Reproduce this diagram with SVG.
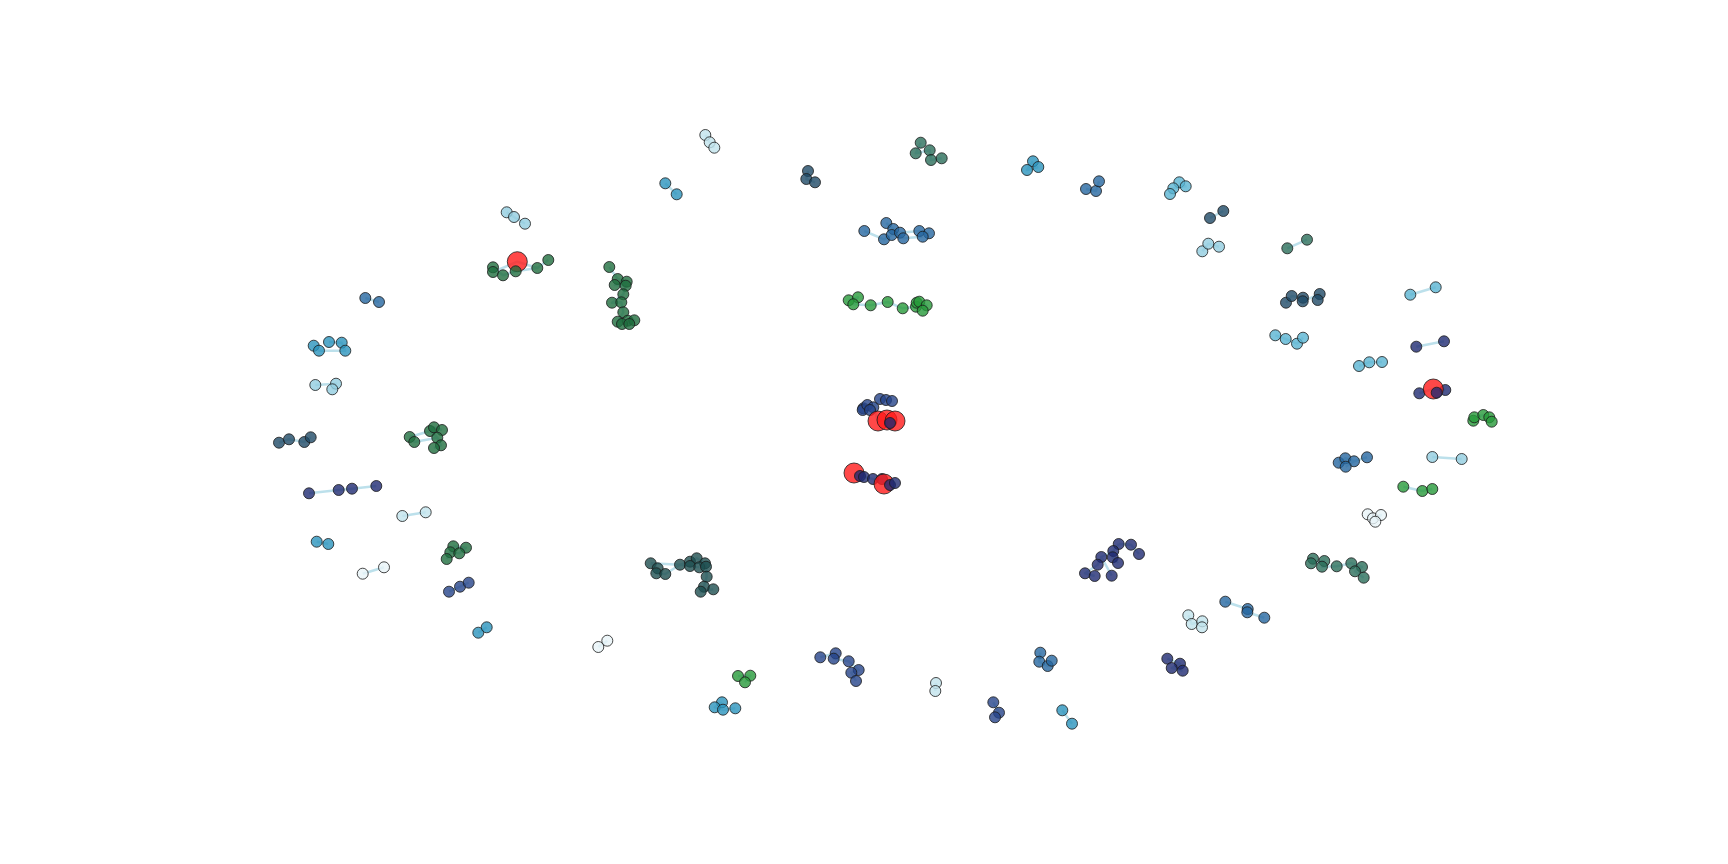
<svg xmlns="http://www.w3.org/2000/svg" width="1728" height="864" viewBox="0 0 1728 864">
<style>
circle{stroke:#1a1a1a;stroke-width:1;fill-opacity:0.8;stroke-opacity:0.8}
.e{fill:none;stroke:#9fd3e2;stroke-width:2.5;stroke-opacity:0.7;stroke-linejoin:round}
.dg{fill:#1f6e3f}.bg{fill:#279a3a}.tg{fill:#2a6e5a}.dt{fill:#1e4f50}.ds{fill:#1f4a66}
.nv{fill:#1f2a72}.nb{fill:#25438a}.bl{fill:#2566a0}.cy{fill:#2a93bd}.lc{fill:#5ab4d2}
.lb{fill:#92cde0}.vl{fill:#c2e4ec}.wh{fill:#e8f4f7}.rd{fill:#ff1a1a}
</style>
<rect width="1728" height="864" fill="#fff"/>
<g id="edges" class="e">
<path class="e" d="M506.7 212.3L514 217L525 223.7"/>
<path class="e" d="M493 267.3L503 275.3L515.7 271.3L537.3 268L548.3 260M493 272L517.3 261.7L537.3 268"/>
<path class="e" d="M365.3 298L379 302"/>
<path class="e" d="M705.3 135L709.7 142.3L714.3 147.7"/>
<path class="e" d="M665.3 183.3L676.7 194.3"/>
<path class="e" d="M808 171L806.3 179L815 182.3"/>
<path class="e" d="M864.3 231L884 239.3L891.7 235L900 232.7L919.3 231L929 233.3M886.3 223L893.3 229L903.3 238.3L922.7 236.7"/>
<path class="e" d="M609.3 267L617.7 279L626.7 281.7L614.7 285L625.7 285.7L623.3 294.3L612 302.7L621.3 302.3L623.3 312.3L617.7 321.7L627.7 320.7L634.3 320.3L629.3 324L622 324"/>
<path class="e" d="M848.7 300.3L858 297.3L853.3 304.3L870.7 305.3L887.7 302L902.7 308.3L916 306.7L916.7 302.7L919.3 301.7L926.7 305.3L922.7 310.7"/>
<path class="e" d="M920.7 142.7L915.7 153.3L929.7 150.3L931 160L941.7 158.3"/>
<path class="e" d="M1033 161.3L1027 170L1038.3 167"/>
<path class="e" d="M1086 189L1096 191L1099 181.3"/>
<path class="e" d="M1179.3 182.3L1185.7 186.3L1173.3 188.3L1170 194"/>
<path class="e" d="M1210 218L1223.3 211"/>
<path class="e" d="M1202.3 251.3L1208.3 243.7L1219 246.7"/>
<path class="e" d="M1287.3 248.3L1307 239.7"/>
<path class="e" d="M1286 302.7L1291.7 296L1303 297.7L1302.7 301.3L1319.7 294L1317.7 300"/>
<path class="e" d="M1410.3 294.7L1435.7 287.3"/>
<path class="e" d="M313.7 345.7L319 350.7L345.3 350.7L341.7 342.7L329 342"/>
<path class="e" d="M315.3 385L336 383.7L332.3 389.3"/>
<path class="e" d="M279 442.7L289 439.3L304.3 442L310.7 437.3"/>
<path class="e" d="M409.7 437L414.3 442L437.3 437.7L430 431L434 427.3L442 430M437.3 437.7L441 445.3L434 448M409.7 437L430 431"/>
<path class="e" d="M309 493.3L338.7 490L352 488.7L376.3 486"/>
<path class="e" d="M402.3 516L425.7 512.3"/>
<path class="e" d="M316.7 541.7L328.3 544"/>
<path class="e" d="M1275.3 335.3L1285.7 339L1297 343.7L1303 337.7"/>
<path class="e" d="M1416.3 346.7L1444 341.3"/>
<path class="e" d="M1359 366L1369.3 362.3L1382 362"/>
<path class="e" d="M1419.3 393.3L1433.3 389L1445.3 390"/>
<path class="e" d="M1473.3 420.7L1474.3 417.3L1483.3 415L1489.3 417.3L1491.7 421.7"/>
<path class="e" d="M1338.7 462.7L1345.3 458.3L1354 461.3L1367 457.3M1354 461.3L1345.7 466.7"/>
<path class="e" d="M1432.3 457L1461.7 459"/>
<path class="e" d="M1403.3 486.7L1422.3 491L1432.3 489"/>
<path class="e" d="M1367.7 514.3L1373 518.3L1381 515L1375.3 521.7"/>
<path class="e" d="M362.7 573.7L384 567.3"/>
<path class="e" d="M453.3 546.3L466 547.7L459.3 553.3L450.3 552.3L446.7 559"/>
<path class="e" d="M449 591.7L460 586.7L468.7 582.7"/>
<path class="e" d="M478.3 632.7L486.7 627.3"/>
<path class="e" d="M650.7 563.3L657.7 568.3L656.3 573.3L665.3 574L680 564.7L690 561.7L696.7 558.3L705 563.3L706 566.7L706.7 576.7L704 586.7L700.7 591.7L713.3 589.3M650.7 563.3L680 564.7L690 566L699.3 567.3"/>
<path class="e" d="M598.3 647L607.3 640.7"/>
<path class="e" d="M738 676L750.3 675.7L745 682.3"/>
<path class="e" d="M722 702.3L714.7 707.3L723 709.7L735.3 708.3"/>
<path class="e" d="M820.3 657.3L835.7 653.3L833.7 658.7L848.7 661.3L858.7 670L851.3 672.7L856 681"/>
<path class="e" d="M1118.7 544L1131 544.7L1139 554M1118.7 544L1113.3 551L1101.3 557L1097.7 564.7L1085 573.3L1094.7 576M1113.3 551L1112.7 557.3L1118 563M1101.3 557L1111.7 575.7"/>
<path class="e" d="M1188.3 615.3L1191.7 624L1202.3 621.3L1202 627.3"/>
<path class="e" d="M1040.3 652.7L1039.3 661.7L1047.7 666L1051.7 660.7"/>
<path class="e" d="M1167.3 658.7L1180 663.7L1171.7 668L1182.7 670.7"/>
<path class="e" d="M936 683L935.3 691"/>
<path class="e" d="M993.3 702.3L999 712.7L995 717.3"/>
<path class="e" d="M1062.3 710.3L1072 723.7"/>
<path class="e" d="M1313 558.7L1311 563.3L1324.3 561L1322 566.7L1336.7 566.3L1351.3 563.3L1362 567L1355 571.3L1363.7 577.7"/>
<path class="e" d="M1225.3 601.7L1247.7 609L1247.3 612.3L1264.3 617.7"/>
<path class="e" d="M863.3 408.3L867.3 405L873.3 407.3L880 399L886 400L892 401M873.3 407.3L878 421L887 420L895 421"/>
<path class="e" d="M854 473L860 476L873 479L882 479L884 484L890 485L895 483"/>
</g>
<g id="nodes">
<g id="c1"><circle class="lb" cx="506.7" cy="212.3" r="5.5"/><circle class="lb" cx="514" cy="217" r="5.5"/><circle class="lb" cx="525" cy="223.7" r="5.5"/></g>
<g id="c2"><circle class="rd" cx="517.3" cy="261.7" r="10"/></g>
<g id="c3"><circle class="dg" cx="493" cy="267.3" r="5.5"/><circle class="dg" cx="493" cy="272" r="5.5"/><circle class="dg" cx="503" cy="275.3" r="5.5"/><circle class="dg" cx="515.7" cy="271.3" r="5.5"/><circle class="dg" cx="537.3" cy="268" r="5.5"/><circle class="dg" cx="548.3" cy="260" r="5.5"/></g>
<g id="c4"><circle class="bl" cx="365.3" cy="298" r="5.5"/><circle class="bl" cx="379" cy="302" r="5.5"/></g>
<g id="c5"><circle class="vl" cx="705.3" cy="135" r="5.5"/><circle class="vl" cx="709.7" cy="142.3" r="5.5"/><circle class="vl" cx="714.3" cy="147.7" r="5.5"/></g>
<g id="c6"><circle class="cy" cx="665.3" cy="183.3" r="5.5"/><circle class="cy" cx="676.7" cy="194.3" r="5.5"/></g>
<g id="c7"><circle class="ds" cx="808" cy="171" r="5.5"/><circle class="ds" cx="806.3" cy="179" r="5.5"/><circle class="ds" cx="815" cy="182.3" r="5.5"/></g>
<g id="c8"><circle class="bl" cx="864.3" cy="231" r="5.5"/><circle class="bl" cx="886.3" cy="223" r="5.5"/><circle class="bl" cx="893.3" cy="229" r="5.5"/><circle class="bl" cx="884" cy="239.3" r="5.5"/><circle class="bl" cx="891.7" cy="235" r="5.5"/><circle class="bl" cx="900" cy="232.7" r="5.5"/><circle class="bl" cx="903.3" cy="238.3" r="5.5"/><circle class="bl" cx="919.3" cy="231" r="5.5"/><circle class="bl" cx="929" cy="233.3" r="5.5"/><circle class="bl" cx="922.7" cy="236.7" r="5.5"/></g>
<g id="c9"><circle class="dg" cx="609.3" cy="267" r="5.5"/><circle class="dg" cx="617.7" cy="279" r="5.5"/><circle class="dg" cx="626.7" cy="281.7" r="5.5"/><circle class="dg" cx="614.7" cy="285" r="5.5"/><circle class="dg" cx="625.7" cy="285.7" r="5.5"/><circle class="dg" cx="623.3" cy="294.3" r="5.5"/><circle class="dg" cx="612" cy="302.7" r="5.5"/><circle class="dg" cx="621.3" cy="302.3" r="5.5"/><circle class="dg" cx="623.3" cy="312.3" r="5.5"/><circle class="dg" cx="617.7" cy="321.7" r="5.5"/><circle class="dg" cx="627.7" cy="320.7" r="5.5"/><circle class="dg" cx="634.3" cy="320.3" r="5.5"/><circle class="dg" cx="622" cy="324" r="5.5"/><circle class="dg" cx="629.3" cy="324" r="5.5"/></g>
<g id="c10"><circle class="bg" cx="848.7" cy="300.3" r="5.5"/><circle class="bg" cx="858" cy="297.3" r="5.5"/><circle class="bg" cx="853.3" cy="304.3" r="5.5"/><circle class="bg" cx="870.7" cy="305.3" r="5.5"/><circle class="bg" cx="887.7" cy="302" r="5.5"/><circle class="bg" cx="902.7" cy="308.3" r="5.5"/><circle class="bg" cx="916" cy="306.7" r="5.5"/><circle class="bg" cx="916.7" cy="302.7" r="5.5"/><circle class="bg" cx="919.3" cy="301.7" r="5.5"/><circle class="bg" cx="926.7" cy="305.3" r="5.5"/><circle class="bg" cx="922.7" cy="310.7" r="5.5"/></g>
<g id="c11"><circle class="tg" cx="920.7" cy="142.7" r="5.5"/><circle class="tg" cx="915.7" cy="153.3" r="5.5"/><circle class="tg" cx="929.7" cy="150.3" r="5.5"/><circle class="tg" cx="931" cy="160" r="5.5"/><circle class="tg" cx="941.7" cy="158.3" r="5.5"/></g>
<g id="c12"><circle class="cy" cx="1033" cy="161.3" r="5.5"/><circle class="cy" cx="1027" cy="170" r="5.5"/><circle class="cy" cx="1038.3" cy="167" r="5.5"/></g>
<g id="c13"><circle class="bl" cx="1086" cy="189" r="5.5"/><circle class="bl" cx="1096" cy="191" r="5.5"/><circle class="bl" cx="1099" cy="181.3" r="5.5"/></g>
<g id="c14"><circle class="lc" cx="1179.3" cy="182.3" r="5.5"/><circle class="lc" cx="1185.7" cy="186.3" r="5.5"/><circle class="lc" cx="1173.3" cy="188.3" r="5.5"/><circle class="lc" cx="1170" cy="194" r="5.5"/></g>
<g id="c15"><circle class="ds" cx="1210" cy="218" r="5.5"/><circle class="ds" cx="1223.3" cy="211" r="5.5"/></g>
<g id="c16"><circle class="lb" cx="1202.3" cy="251.3" r="5.5"/><circle class="lb" cx="1208.3" cy="243.7" r="5.5"/><circle class="lb" cx="1219" cy="246.7" r="5.5"/></g>
<g id="c17"><circle class="tg" cx="1287.3" cy="248.3" r="5.5"/><circle class="tg" cx="1307" cy="239.7" r="5.5"/></g>
<g id="c18"><circle class="ds" cx="1286" cy="302.7" r="5.5"/><circle class="ds" cx="1291.7" cy="296" r="5.5"/><circle class="ds" cx="1303" cy="297.7" r="5.5"/><circle class="ds" cx="1302.7" cy="301.3" r="5.5"/><circle class="ds" cx="1319.7" cy="294" r="5.5"/><circle class="ds" cx="1317.7" cy="300" r="5.5"/></g>
<g id="c19"><circle class="lc" cx="1410.3" cy="294.7" r="5.5"/><circle class="lc" cx="1435.7" cy="287.3" r="5.5"/></g>
<g id="c20"><circle class="cy" cx="313.7" cy="345.7" r="5.5"/><circle class="cy" cx="319" cy="350.7" r="5.5"/><circle class="cy" cx="329" cy="342" r="5.5"/><circle class="cy" cx="341.7" cy="342.7" r="5.5"/><circle class="cy" cx="345.3" cy="350.7" r="5.5"/></g>
<g id="c21"><circle class="lb" cx="315.3" cy="385" r="5.5"/><circle class="lb" cx="336" cy="383.7" r="5.5"/><circle class="lb" cx="332.3" cy="389.3" r="5.5"/></g>
<g id="c22"><circle class="ds" cx="279" cy="442.7" r="5.5"/><circle class="ds" cx="289" cy="439.3" r="5.5"/><circle class="ds" cx="304.3" cy="442" r="5.5"/><circle class="ds" cx="310.7" cy="437.3" r="5.5"/></g>
<g id="c23"><circle class="dg" cx="409.7" cy="437" r="5.5"/><circle class="dg" cx="414.3" cy="442" r="5.5"/><circle class="dg" cx="430" cy="431" r="5.5"/><circle class="dg" cx="434" cy="427.3" r="5.5"/><circle class="dg" cx="442" cy="430" r="5.5"/><circle class="dg" cx="437.3" cy="437.7" r="5.5"/><circle class="dg" cx="441" cy="445.3" r="5.5"/><circle class="dg" cx="434" cy="448" r="5.5"/></g>
<g id="c24"><circle class="nv" cx="309" cy="493.3" r="5.5"/><circle class="nv" cx="338.7" cy="490" r="5.5"/><circle class="nv" cx="352" cy="488.7" r="5.5"/><circle class="nv" cx="376.3" cy="486" r="5.5"/></g>
<g id="c25"><circle class="vl" cx="402.3" cy="516" r="5.5"/><circle class="vl" cx="425.7" cy="512.3" r="5.5"/></g>
<g id="c26"><circle class="cy" cx="316.7" cy="541.7" r="5.5"/><circle class="cy" cx="328.3" cy="544" r="5.5"/></g>
<g id="c27"><circle class="lc" cx="1275.3" cy="335.3" r="5.5"/><circle class="lc" cx="1285.7" cy="339" r="5.5"/><circle class="lc" cx="1297" cy="343.7" r="5.5"/><circle class="lc" cx="1303" cy="337.7" r="5.5"/></g>
<g id="c28"><circle class="nv" cx="1416.3" cy="346.7" r="5.5"/><circle class="nv" cx="1444" cy="341.3" r="5.5"/></g>
<g id="c29"><circle class="lc" cx="1359" cy="366" r="5.5"/><circle class="lc" cx="1369.3" cy="362.3" r="5.5"/><circle class="lc" cx="1382" cy="362" r="5.5"/></g>
<g id="c30"><circle class="nv" cx="1419.3" cy="393.3" r="5.5"/><circle class="nv" cx="1445.3" cy="390" r="5.5"/><circle class="rd" cx="1433.3" cy="389" r="10"/><circle class="nv" cx="1436.7" cy="392.7" r="5.5"/></g>
<g id="c31"><circle class="bg" cx="1473.3" cy="420.7" r="5.5"/><circle class="bg" cx="1474.3" cy="417.3" r="5.5"/><circle class="bg" cx="1483.3" cy="415" r="5.5"/><circle class="bg" cx="1489.3" cy="417.3" r="5.5"/><circle class="bg" cx="1491.7" cy="421.7" r="5.5"/></g>
<g id="c32"><circle class="bl" cx="1338.7" cy="462.7" r="5.5"/><circle class="bl" cx="1345.3" cy="458.3" r="5.5"/><circle class="bl" cx="1354" cy="461.3" r="5.5"/><circle class="bl" cx="1345.7" cy="466.7" r="5.5"/><circle class="bl" cx="1367" cy="457.3" r="5.5"/></g>
<g id="c33"><circle class="lb" cx="1432.3" cy="457" r="5.5"/><circle class="lb" cx="1461.7" cy="459" r="5.5"/></g>
<g id="c34"><circle class="bg" cx="1403.3" cy="486.7" r="5.5"/><circle class="bg" cx="1422.3" cy="491" r="5.5"/><circle class="bg" cx="1432.3" cy="489" r="5.5"/></g>
<g id="c35"><circle class="wh" cx="1367.7" cy="514.3" r="5.5"/><circle class="wh" cx="1373" cy="518.3" r="5.5"/><circle class="wh" cx="1381" cy="515" r="5.5"/><circle class="wh" cx="1375.3" cy="521.7" r="5.5"/></g>
<g id="c36"><circle class="wh" cx="362.7" cy="573.7" r="5.5"/><circle class="wh" cx="384" cy="567.3" r="5.5"/></g>
<g id="c37"><circle class="dg" cx="453.3" cy="546.3" r="5.5"/><circle class="dg" cx="466" cy="547.7" r="5.5"/><circle class="dg" cx="450.3" cy="552.3" r="5.5"/><circle class="dg" cx="459.3" cy="553.3" r="5.5"/><circle class="dg" cx="446.7" cy="559" r="5.5"/></g>
<g id="c38"><circle class="nb" cx="449" cy="591.7" r="5.5"/><circle class="nb" cx="460" cy="586.7" r="5.5"/><circle class="nb" cx="468.7" cy="582.7" r="5.5"/></g>
<g id="c39"><circle class="cy" cx="478.3" cy="632.7" r="5.5"/><circle class="cy" cx="486.7" cy="627.3" r="5.5"/></g>
<g id="c40"><circle class="dt" cx="650.7" cy="563.3" r="5.5"/><circle class="dt" cx="657.7" cy="568.3" r="5.5"/><circle class="dt" cx="656.3" cy="573.3" r="5.5"/><circle class="dt" cx="665.3" cy="574" r="5.5"/><circle class="dt" cx="680" cy="564.7" r="5.5"/><circle class="dt" cx="690" cy="561.7" r="5.5"/><circle class="dt" cx="696.7" cy="558.3" r="5.5"/><circle class="dt" cx="705" cy="563.3" r="5.5"/><circle class="dt" cx="690" cy="566" r="5.5"/><circle class="dt" cx="699.3" cy="567.3" r="5.5"/><circle class="dt" cx="706" cy="566.7" r="5.5"/><circle class="dt" cx="706.7" cy="576.7" r="5.5"/><circle class="dt" cx="704" cy="586.7" r="5.5"/><circle class="dt" cx="700.7" cy="591.7" r="5.5"/><circle class="dt" cx="713.3" cy="589.3" r="5.5"/></g>
<g id="c41"><circle class="wh" cx="598.3" cy="647" r="5.5"/><circle class="wh" cx="607.3" cy="640.7" r="5.5"/></g>
<g id="c42"><circle class="bg" cx="738" cy="676" r="5.5"/><circle class="bg" cx="750.3" cy="675.7" r="5.5"/><circle class="bg" cx="745" cy="682.3" r="5.5"/></g>
<g id="c43"><circle class="cy" cx="722" cy="702.3" r="5.5"/><circle class="cy" cx="714.7" cy="707.3" r="5.5"/><circle class="cy" cx="723" cy="709.7" r="5.5"/><circle class="cy" cx="735.3" cy="708.3" r="5.5"/></g>
<g id="c44"><circle class="nb" cx="820.3" cy="657.3" r="5.5"/><circle class="nb" cx="835.7" cy="653.3" r="5.5"/><circle class="nb" cx="833.7" cy="658.7" r="5.5"/><circle class="nb" cx="848.7" cy="661.3" r="5.5"/><circle class="nb" cx="858.7" cy="670" r="5.5"/><circle class="nb" cx="851.3" cy="672.7" r="5.5"/><circle class="nb" cx="856" cy="681" r="5.5"/></g>
<g id="c45"><circle class="nv" cx="1118.7" cy="544" r="5.5"/><circle class="nv" cx="1131" cy="544.7" r="5.5"/><circle class="nv" cx="1113.3" cy="551" r="5.5"/><circle class="nv" cx="1101.3" cy="557" r="5.5"/><circle class="nv" cx="1112.7" cy="557.3" r="5.5"/><circle class="nv" cx="1118" cy="563" r="5.5"/><circle class="nv" cx="1139" cy="554" r="5.5"/><circle class="nv" cx="1097.7" cy="564.7" r="5.5"/><circle class="nv" cx="1085" cy="573.3" r="5.5"/><circle class="nv" cx="1094.7" cy="576" r="5.5"/><circle class="nv" cx="1111.7" cy="575.7" r="5.5"/></g>
<g id="c46"><circle class="vl" cx="1188.3" cy="615.3" r="5.5"/><circle class="vl" cx="1191.7" cy="624" r="5.5"/><circle class="vl" cx="1202.3" cy="621.3" r="5.5"/><circle class="vl" cx="1202" cy="627.3" r="5.5"/></g>
<g id="c47"><circle class="bl" cx="1040.3" cy="652.7" r="5.5"/><circle class="bl" cx="1039.3" cy="661.7" r="5.5"/><circle class="bl" cx="1047.7" cy="666" r="5.5"/><circle class="bl" cx="1051.7" cy="660.7" r="5.5"/></g>
<g id="c48"><circle class="nv" cx="1167.3" cy="658.7" r="5.5"/><circle class="nv" cx="1180" cy="663.7" r="5.5"/><circle class="nv" cx="1171.7" cy="668" r="5.5"/><circle class="nv" cx="1182.7" cy="670.7" r="5.5"/></g>
<g id="c49"><circle class="vl" cx="936" cy="683" r="5.5"/><circle class="vl" cx="935.3" cy="691" r="5.5"/></g>
<g id="c50"><circle class="nb" cx="993.3" cy="702.3" r="5.5"/><circle class="nb" cx="999" cy="712.7" r="5.5"/><circle class="nb" cx="995" cy="717.3" r="5.5"/></g>
<g id="c51"><circle class="cy" cx="1062.3" cy="710.3" r="5.5"/><circle class="cy" cx="1072" cy="723.7" r="5.5"/></g>
<g id="c52"><circle class="tg" cx="1313" cy="558.7" r="5.5"/><circle class="tg" cx="1311" cy="563.3" r="5.5"/><circle class="tg" cx="1324.3" cy="561" r="5.5"/><circle class="tg" cx="1322" cy="566.7" r="5.5"/><circle class="tg" cx="1336.7" cy="566.3" r="5.5"/><circle class="tg" cx="1351.3" cy="563.3" r="5.5"/><circle class="tg" cx="1362" cy="567" r="5.5"/><circle class="tg" cx="1355" cy="571.3" r="5.5"/><circle class="tg" cx="1363.7" cy="577.7" r="5.5"/></g>
<g id="c53"><circle class="bl" cx="1225.3" cy="601.7" r="5.5"/><circle class="bl" cx="1247.7" cy="609" r="5.5"/><circle class="bl" cx="1247.3" cy="612.3" r="5.5"/><circle class="bl" cx="1264.3" cy="617.7" r="5.5"/></g>
<g id="c54"><circle class="nb" cx="863.3" cy="408.3" r="5.5"/><circle class="nb" cx="862.7" cy="410" r="5.5"/><circle class="nb" cx="867.3" cy="405" r="5.5"/><circle class="nb" cx="873.3" cy="407.3" r="5.5"/><circle class="nb" cx="870" cy="410" r="5.5"/><circle class="nb" cx="880" cy="399" r="5.5"/><circle class="nb" cx="886" cy="400" r="5.5"/><circle class="nb" cx="892" cy="401" r="5.5"/><circle class="rd" cx="878" cy="421" r="10"/><circle class="rd" cx="887" cy="420" r="10"/><circle class="rd" cx="895" cy="421" r="10"/><circle class="nv" cx="890" cy="423" r="5.5"/></g>
<g id="c55"><circle class="rd" cx="854" cy="473" r="10"/><circle class="nv" cx="860" cy="476" r="5.5"/><circle class="nv" cx="864" cy="477" r="5.5"/><circle class="nv" cx="873" cy="479" r="5.5"/><circle class="nv" cx="882" cy="479" r="5.5"/><circle class="rd" cx="884" cy="484" r="10"/><circle class="nv" cx="890" cy="485" r="5.5"/><circle class="nv" cx="895" cy="483" r="5.5"/></g>
</g>
</svg>
